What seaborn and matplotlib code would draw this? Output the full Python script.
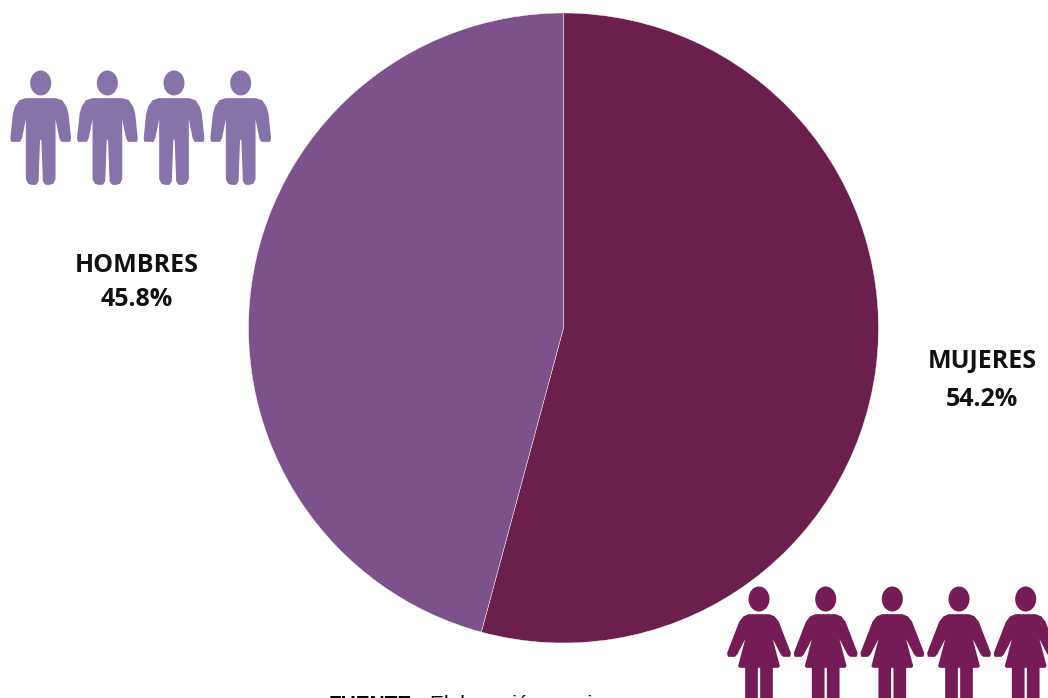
import matplotlib
matplotlib.use('Agg')
import matplotlib.pyplot as plt
from matplotlib.patches import Ellipse, Polygon
import seaborn as sns

# Data
labels = ['MUJERES', 'HOMBRES']
values = [54.2, 45.8]
pie_colors = ['#6B1F4D', '#7D528B']
man_color = '#8673A9'
woman_color = '#751B56'
text_color = '#111111'

W, H = 1048, 698

sns.set_theme(style='white')
plt.rcParams['font.family'] = ['Open Sans', 'DejaVu Sans']

fig = plt.figure(figsize=(W / 100, H / 100), dpi=100)

# Pie
ax = fig.add_axes([248.5 / W, (H - 643) / H, 630 / W, 630 / H])
ax.pie(values, colors=sns.color_palette(pie_colors), startangle=90, counterclock=False, radius=1,
       wedgeprops={'linewidth': 0.3, 'edgecolor': 'white'})
ax.set_xlim(-1, 1)
ax.set_ylim(-1, 1)

# Overlay in pixel coordinates for icons and text
over = fig.add_axes([0, 0, 1, 1])
over.set_xlim(0, W)
over.set_ylim(H, 0)
over.axis('off')
over.patch.set_alpha(0)

# Right half outlines of the icons (dx from centre, y in pixels)
man_half = [(0, 99), (15, 99), (21, 101), (25, 107), (27, 114), (29.5, 138), (29, 141), (21, 141),
            (19.5, 138), (15, 116), (14, 118), (14, 179), (12, 183), (9, 184), (5, 184), (3, 181), (1.5, 140), (0, 138)]
woman_half = [(0, 615), (10, 615), (15, 617), (19, 622), (31, 653), (30.5, 656), (24.5, 656), (22.5, 654),
              (11, 632), (20, 666), (19, 667), (13, 667), (13, 720), (2, 720), (2, 667), (0, 667)]


def draw_person(cx, head_y, half, color):
    pts = [(cx + dx, y) for dx, y in half] + [(cx - dx, y) for dx, y in reversed(half)]
    over.add_patch(Polygon(pts, closed=True, fc=color, ec=color, lw=1.2, joinstyle='round'))
    over.add_patch(Ellipse((cx, head_y), 21, 25, fc=color, ec='none'))


for cx in [40.7, 107.4, 174, 240.7]:
    draw_person(cx, 83, man_half, man_color)

for cx in [759, 825.7, 892.3, 959, 1025.7]:
    draw_person(cx, 599, woman_half, woman_color)

# Labels
over.text(137, 266, labels[1], ha='center', va='center', fontsize=18, fontweight='bold', color=text_color)
over.text(137, 299, f'{values[1]}%', ha='center', va='center', fontsize=18, fontweight='bold', color=text_color)
over.text(982, 361, labels[0], ha='center', va='center', fontsize=18, fontweight='bold', color=text_color)
over.text(982, 399, f'{values[0]}%', ha='center', va='center', fontsize=18, fontweight='bold', color=text_color)

# Source note, cut off by the bottom edge as in the original
over.text(329, 695, 'FUENTE:', ha='left', va='top', fontsize=15, fontweight='bold', family='Liberation Sans', color='black')
over.text(430, 695, 'Elaboración propia', ha='left', va='top', fontsize=15, family='Liberation Sans', color='black')

fig.savefig('out.png', dpi=100, facecolor='white')
